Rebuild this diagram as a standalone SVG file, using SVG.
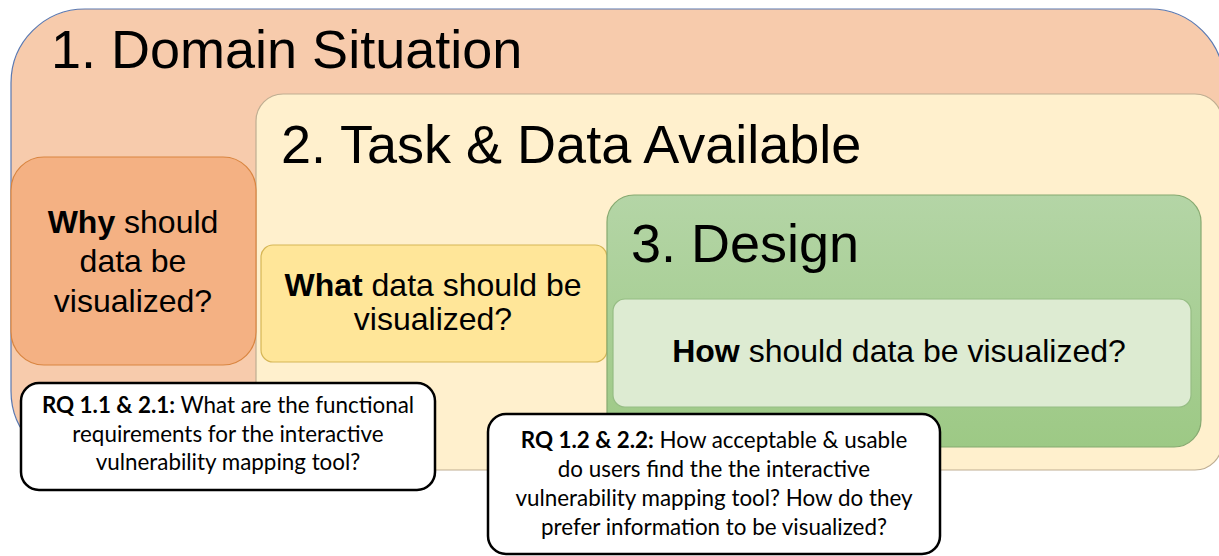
<svg xmlns="http://www.w3.org/2000/svg" width="1219" height="556" viewBox="0 0 1219 556">
<style>
.title{font-family:"Liberation Sans",Arial,sans-serif;font-size:54px;fill:#000}
.lbl{font-family:"Liberation Sans",Arial,sans-serif;font-size:32px;fill:#000;text-anchor:middle}
.rq{font-family:Lato,"Open Sans",sans-serif;font-size:22.4px;fill:#000;text-anchor:middle}
.b{font-weight:bold}
.rqbox{fill:#fff;stroke:#000;stroke-width:2.5}
</style>
<defs>
<linearGradient id="gGreen" x1="0" y1="0" x2="0" y2="1">
<stop offset="0" stop-color="#b4d5a6"/>
<stop offset="1" stop-color="#9dc985"/>
</linearGradient>
</defs>
<rect width="1219" height="556" fill="#fff"/>
<g id="domain">
<rect x="11" y="9" width="1213" height="456" rx="74" fill="#f7cbac" stroke="#5a78b0" stroke-width="1.2"/>
<text class="title" x="51" y="68">1. Domain Situation</text>
</g>
<g id="task">
<rect x="256" y="94" width="966" height="376" rx="27" fill="#fff0cd" stroke="#bfae92" stroke-width="1.2"/>
<text class="title" x="281" y="163">2. Task &amp; Data Available</text>
</g>
<g id="why">
<rect x="11" y="157" width="245" height="208" rx="33" fill="#f4b183" stroke="#d98540" stroke-width="1.2"/>
<text class="lbl" x="133" y="233"><tspan class="b">Why</tspan> should</text>
<text class="lbl" x="133" y="272">data be</text>
<text class="lbl" x="133" y="312">visualized?</text>
</g>
<g id="what">
<rect x="261" y="245" width="346" height="117" rx="12" fill="#ffe699" stroke="#d6b656" stroke-width="1.2"/>
<text class="lbl" x="433" y="296"><tspan class="b">What</tspan> data should be</text>
<text class="lbl" x="433" y="330">visualized?</text>
</g>
<g id="design">
<rect x="607" y="195" width="594" height="252" rx="27" fill="url(#gGreen)" stroke="#86a970" stroke-width="1.2"/>
<text class="title" x="631" y="262">3. Design</text>
</g>
<g id="how">
<rect x="613" y="299" width="578" height="108" rx="12" fill="#ddebd2" stroke="#96bd84" stroke-width="1.2"/>
<text class="lbl" x="899" y="362"><tspan class="b">How</tspan> should data be visualized?</text>
</g>
<g id="rq1">
<rect class="rqbox" x="21" y="383" width="414" height="107" rx="18"/>
<text class="rq" x="228" y="413"><tspan class="b">RQ 1.1 &amp; 2.1:</tspan> What are the functional</text>
<text class="rq" x="228" y="442">requirements for the interactive</text>
<text class="rq" x="228" y="470">vulnerability mapping tool?</text>
</g>
<g id="rq2">
<rect class="rqbox" x="488" y="414" width="452" height="140" rx="18"/>
<text class="rq" x="714" y="448"><tspan class="b">RQ 1.2 &amp; 2.2:</tspan> How acceptable &amp; usable</text>
<text class="rq" x="714" y="477">do users find the the interactive</text>
<text class="rq" x="714" y="506">vulnerability mapping tool? How do they</text>
<text class="rq" x="714" y="535">prefer information to be visualized?</text>
</g>
<g id="connectors"></g>
</svg>
